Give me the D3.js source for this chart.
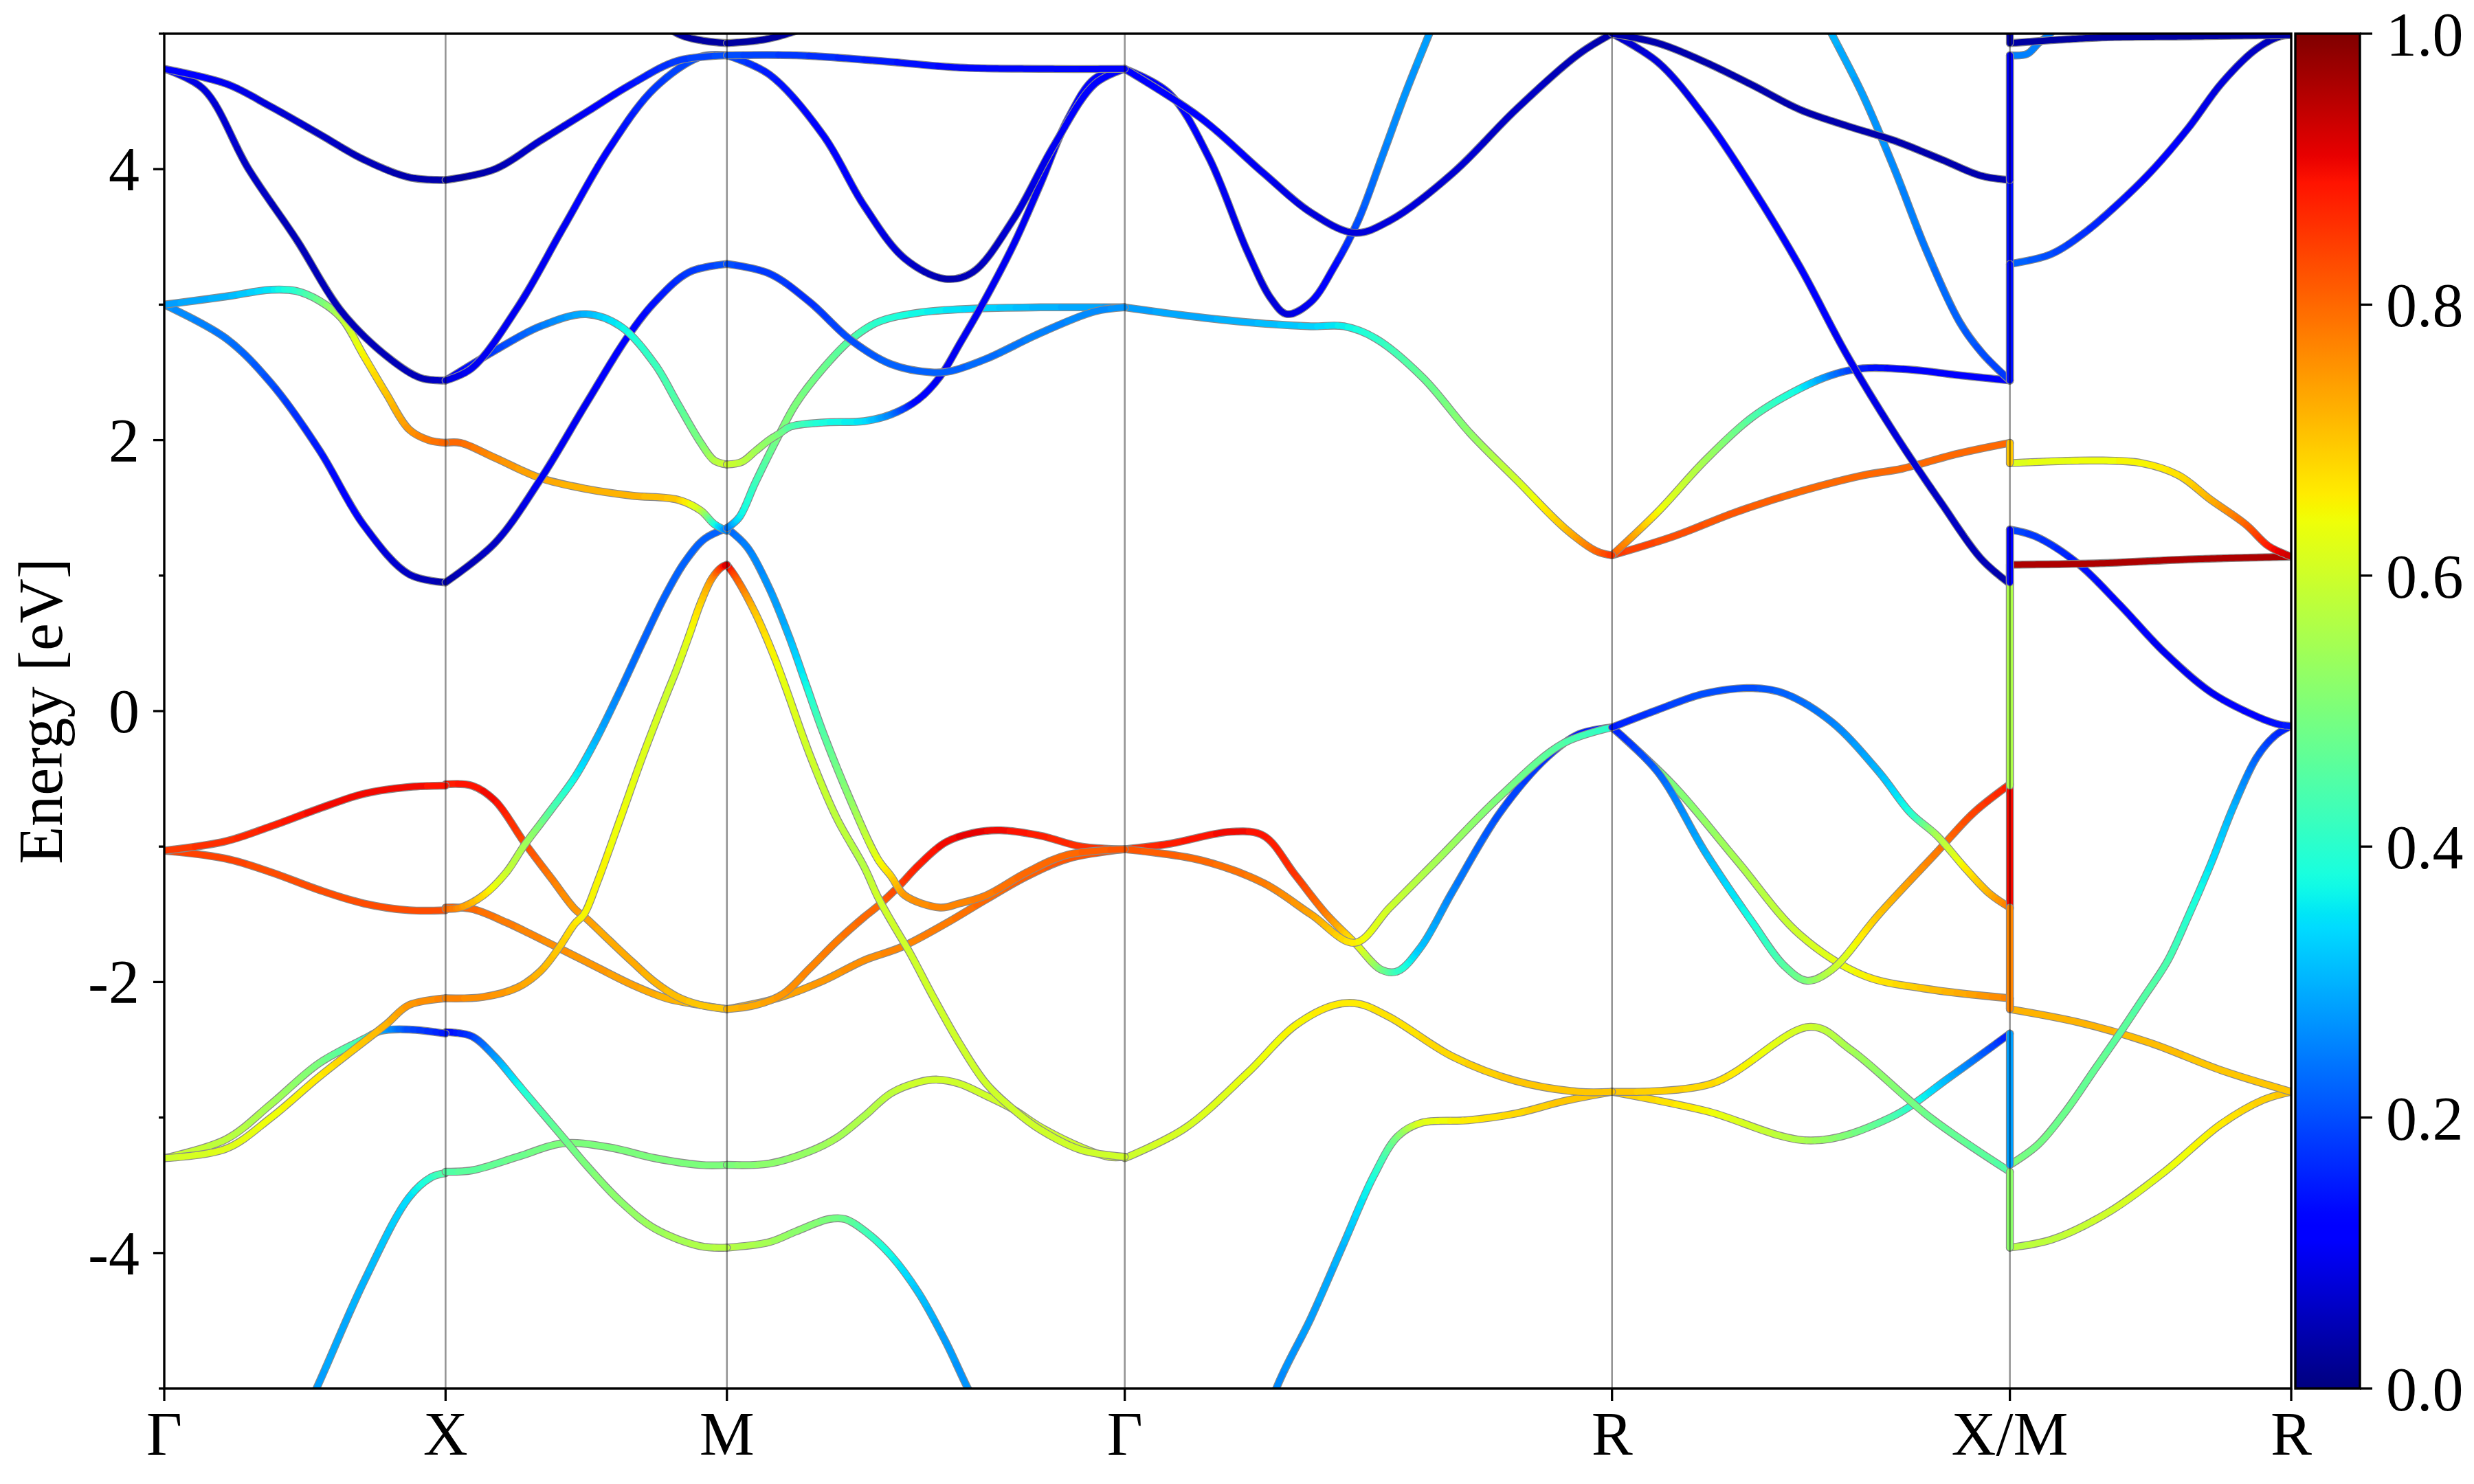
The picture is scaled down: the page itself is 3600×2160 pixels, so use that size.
<!DOCTYPE html>
<html><head><meta charset="utf-8">
<script src="https://cdn.jsdelivr.net/npm/d3@7"></script>
<style>body{margin:0;background:#fff}svg{display:block}</style>
</head><body>
<svg id="chart" width="3600" height="2160"></svg>
<script>
// ---- high-symmetry path ----
const kLabels = ["Γ","X","M","Γ","R","X/M","R"];
const kTicks = [0, 0.5, 1.0, 1.7071, 2.5731, 3.2802, 3.7802];
const energyTicks = [-4,-2,0,2,4];
const energyMinor = [-5,-3,-1,1,3,5];
const cbarTicks = [0,0.2,0.4,0.6,0.8,1.0];

// ---- bands per path segment: [fraction along segment, energy (eV), weight] ----
const bandsGX = [
 [[0,4.74,0.12],[0.22,4.63,0.1],[0.38,4.46,0.08],[0.55,4.26,0.06],[0.71,4.07,0.05],[0.87,3.94,0.04],[1,3.92,0.04]],
 [[0,4.74,0.12],[0.14,4.59,0.08],[0.30,4.0,0.06],[0.47,3.48,0.05],[0.63,2.95,0.05],[0.79,2.62,0.05],[0.91,2.46,0.05],[1,2.44,0.06]],
 [[0,3.0,0.28],[0.22,3.06,0.3],[0.38,3.11,0.35],[0.47,3.1,0.4],[0.55,3.03,0.48],[0.63,2.9,0.57],[0.71,2.62,0.65],[0.79,2.34,0.7],[0.87,2.08,0.75],[0.94,2.0,0.78],[1,1.98,0.8]],
 [[0,3.0,0.27],[0.22,2.75,0.24],[0.38,2.42,0.2],[0.55,1.93,0.15],[0.71,1.37,0.1],[0.87,1.01,0.06],[1,0.95,0.04]],
 [[0,-1.03,0.85],[0.22,-0.96,0.86],[0.38,-0.85,0.88],[0.55,-0.72,0.9],[0.71,-0.61,0.9],[0.87,-0.56,0.9],[1,-0.55,0.89]],
 [[0,-1.03,0.84],[0.22,-1.09,0.84],[0.38,-1.19,0.83],[0.55,-1.32,0.83],[0.71,-1.42,0.83],[0.87,-1.47,0.83],[1,-1.47,0.83]],
 [[0,-3.30,0.6],[0.22,-3.16,0.58],[0.38,-2.9,0.55],[0.55,-2.6,0.5],[0.71,-2.42,0.42],[0.77,-2.36,0.3],[0.87,-2.35,0.2],[1,-2.38,0.15]],
 [[0,-3.30,0.6],[0.22,-3.23,0.62],[0.38,-3.0,0.64],[0.55,-2.7,0.66],[0.71,-2.44,0.7],[0.79,-2.31,0.72],[0.87,-2.17,0.75],[1,-2.12,0.77]],
 [[0.40,-5.6,0.27],[0.53,-5.05,0.28],[0.71,-4.21,0.3],[0.87,-3.59,0.34],[0.95,-3.44,0.4],[1,-3.41,0.45]]
];
const bandsXM = [
 [[0,3.92,0.03],[0.175,4.0,0.04],[0.337,4.21,0.07],[0.5,4.42,0.1],[0.663,4.63,0.14],[0.825,4.80,0.18],[1,4.84,0.2]],
 [[0,2.44,0.08],[0.093,2.53,0.1],[0.256,2.98,0.1],[0.419,3.57,0.1],[0.581,4.15,0.12],[0.744,4.60,0.18],[0.907,4.83,0.2],[1,4.84,0.2]],
 [[0,2.44,0.1],[0.175,2.66,0.18],[0.337,2.84,0.24],[0.5,2.93,0.3],[0.622,2.84,0.36],[0.744,2.56,0.42],[0.825,2.27,0.45],[0.907,1.98,0.5],[0.955,1.85,0.56],[1,1.82,0.6]],
 [[0,0.95,0.04],[0.175,1.24,0.06],[0.337,1.71,0.1],[0.5,2.27,0.1],[0.646,2.76,0.12],[0.744,3.02,0.14],[0.866,3.24,0.18],[1,3.30,0.2]],
 [[0,1.98,0.8],[0.053,1.98,0.8],[0.175,1.87,0.76],[0.337,1.72,0.73],[0.5,1.64,0.72],[0.663,1.59,0.72],[0.825,1.56,0.7],[0.907,1.48,0.6],[0.955,1.38,0.4],[1,1.33,0.25]],
 [[0,-1.46,0.8],[0.053,-1.45,0.76],[0.134,-1.36,0.68],[0.216,-1.19,0.6],[0.28,-0.99,0.55],[0.338,-0.83,0.5],[0.378,-0.72,0.45],[0.459,-0.49,0.37],[0.54,-0.19,0.3],[0.62,0.15,0.25],[0.703,0.52,0.22],[0.78,0.85,0.22],[0.85,1.1,0.22],[0.92,1.27,0.22],[1,1.35,0.22]],
 [[0,-2.12,0.77],[0.134,-2.11,0.76],[0.256,-2.04,0.74],[0.337,-1.92,0.72],[0.402,-1.75,0.7],[0.459,-1.57,0.67],[0.492,-1.50,0.65],[0.54,-1.26,0.65],[0.622,-0.79,0.64],[0.703,-0.32,0.62],[0.785,0.12,0.6],[0.82,0.30,0.6],[0.866,0.56,0.63],[0.907,0.80,0.68],[0.947,0.98,0.75],[0.98,1.06,0.85],[1,1.08,0.93]],
 [[0,-0.54,0.88],[0.093,-0.55,0.89],[0.175,-0.66,0.9],[0.28,-0.97,0.84],[0.378,-1.24,0.78],[0.459,-1.46,0.75],[0.5,-1.53,0.74],[0.581,-1.69,0.73],[0.663,-1.85,0.73],[0.744,-2.0,0.72],[0.825,-2.11,0.71],[0.907,-2.17,0.7],[1,-2.20,0.7]],
 [[0,-1.45,0.82],[0.093,-1.46,0.8],[0.216,-1.56,0.78],[0.297,-1.64,0.77],[0.394,-1.74,0.76],[0.5,-1.85,0.75],[0.663,-2.02,0.74],[0.785,-2.12,0.72],[0.907,-2.17,0.71],[1,-2.20,0.7]],
 [[0,-2.37,0.12],[0.093,-2.40,0.18],[0.175,-2.55,0.27],[0.256,-2.75,0.36],[0.337,-2.95,0.44],[0.419,-3.15,0.48],[0.5,-3.35,0.5],[0.622,-3.62,0.52],[0.744,-3.82,0.54],[0.907,-3.95,0.56],[1,-3.96,0.57]],
 [[0,-3.40,0.45],[0.093,-3.39,0.46],[0.256,-3.29,0.48],[0.419,-3.19,0.5],[0.581,-3.22,0.5],[0.744,-3.30,0.5],[0.907,-3.35,0.5],[1,-3.35,0.5]],
 [[0.7,5.2,0.03],[0.825,5.0,0.03],[0.91,4.95,0.03],[1,4.93,0.03]]
];
const bandsMG = [
 [[0,4.93,0.03],[0.1,4.96,0.03],[0.2,5.05,0.03],[0.3,5.2,0.03]],
 [[0,4.84,0.2],[0.174,4.84,0.18],[0.379,4.80,0.15],[0.584,4.75,0.13],[0.788,4.74,0.13],[1,4.74,0.12]],
 [[0,4.84,0.2],[0.106,4.70,0.15],[0.242,4.25,0.12],[0.345,3.73,0.1],[0.447,3.34,0.07],[0.549,3.19,0.04],[0.618,3.24,0.05],[0.72,3.63,0.07],[0.823,4.18,0.1],[0.925,4.63,0.12],[1,4.74,0.12]],
 [[0,3.30,0.2],[0.106,3.23,0.18],[0.208,3.02,0.17],[0.311,2.74,0.2],[0.413,2.56,0.22],[0.515,2.50,0.22],[0.563,2.51,0.22],[0.652,2.60,0.23],[0.788,2.79,0.25],[0.925,2.95,0.26],[1,2.98,0.27]],
 [[0,1.35,0.22],[0.031,1.43,0.35],[0.072,1.69,0.42],[0.133,2.05,0.5],[0.174,2.27,0.5],[0.242,2.53,0.48],[0.311,2.74,0.45],[0.379,2.87,0.4],[0.481,2.94,0.37],[0.618,2.97,0.34],[0.788,2.98,0.3],[1,2.98,0.28]],
 [[0,1.82,0.6],[0.038,1.84,0.58],[0.072,1.92,0.55],[0.106,2.0,0.52],[0.133,2.05,0.5],[0.16,2.10,0.45],[0.242,2.13,0.38],[0.345,2.14,0.35],[0.413,2.19,0.25],[0.481,2.30,0.12],[0.536,2.47,0.1],[0.587,2.72,0.1],[0.638,2.98,0.1],[0.72,3.44,0.1],[0.788,3.89,0.1],[0.857,4.37,0.11],[0.925,4.67,0.12],[1,4.74,0.12]],
 [[0,1.35,0.22],[0.051,1.21,0.25],[0.106,0.91,0.27],[0.155,0.56,0.3],[0.201,0.18,0.37],[0.242,-0.16,0.45],[0.311,-0.66,0.52],[0.379,-1.09,0.63],[0.413,-1.22,0.68],[0.447,-1.36,0.75],[0.536,-1.45,0.77],[0.584,-1.42,0.77],[0.652,-1.36,0.78],[0.754,-1.19,0.8],[0.857,-1.06,0.8],[1,-1.02,0.82]],
 [[0,1.08,0.93],[0.024,0.98,0.82],[0.072,0.72,0.7],[0.119,0.40,0.65],[0.147,0.18,0.63],[0.208,-0.32,0.6],[0.276,-0.79,0.58],[0.345,-1.15,0.57],[0.379,-1.37,0.6],[0.413,-1.55,0.6],[0.461,-1.79,0.6],[0.515,-2.09,0.6],[0.584,-2.45,0.6],[0.652,-2.75,0.6],[0.72,-2.94,0.6],[0.788,-3.09,0.6],[0.891,-3.24,0.6],[1,-3.29,0.6]],
 [[0,-2.2,0.72],[0.072,-2.17,0.73],[0.14,-2.09,0.75],[0.208,-1.90,0.77],[0.276,-1.70,0.78],[0.345,-1.52,0.8],[0.379,-1.44,0.8],[0.433,-1.29,0.84],[0.481,-1.14,0.88],[0.549,-0.97,0.9],[0.618,-0.90,0.91],[0.686,-0.88,0.9],[0.788,-0.92,0.88],[0.891,-1.0,0.86],[1,-1.02,0.85]],
 [[0,-2.2,0.72],[0.126,-2.12,0.73],[0.242,-1.99,0.75],[0.345,-1.84,0.76],[0.44,-1.74,0.77],[0.549,-1.57,0.78],[0.652,-1.39,0.8],[0.754,-1.22,0.81],[0.857,-1.09,0.82],[1,-1.02,0.83]],
 [[0,-3.35,0.5],[0.106,-3.34,0.52],[0.208,-3.25,0.53],[0.276,-3.15,0.55],[0.345,-2.99,0.56],[0.413,-2.82,0.58],[0.481,-2.74,0.6],[0.529,-2.72,0.6],[0.584,-2.75,0.6],[0.652,-2.84,0.6],[0.72,-2.94,0.6],[0.788,-3.07,0.6],[0.891,-3.22,0.6],[0.96,-3.29,0.6],[1,-3.29,0.6]],
 [[0,-3.96,0.57],[0.106,-3.92,0.55],[0.174,-3.84,0.52],[0.256,-3.75,0.5],[0.297,-3.75,0.48],[0.352,-3.85,0.43],[0.413,-4.02,0.37],[0.481,-4.29,0.32],[0.549,-4.65,0.28],[0.604,-4.99,0.27],[0.65,-5.25,0.27],[0.7,-5.5,0.27]]
];
const bandsGR = [
 [[0,4.74,0.12],[0.091,4.56,0.12],[0.172,4.09,0.1],[0.252,3.39,0.09],[0.301,3.04,0.08],[0.333,2.93,0.08],[0.382,3.02,0.1],[0.43,3.28,0.12],[0.479,3.62,0.2],[0.528,4.09,0.25],[0.576,4.56,0.27],[0.625,5.0,0.28],[0.67,5.4,0.28]],
 [[0,4.74,0.12],[0.155,4.38,0.12],[0.285,3.97,0.1],[0.382,3.68,0.08],[0.472,3.53,0.08],[0.544,3.62,0.08],[0.673,3.97,0.07],[0.803,4.44,0.06],[0.932,4.85,0.05],[1,5.0,0.04]],
 [[0,2.98,0.28],[0.123,2.92,0.29],[0.252,2.87,0.3],[0.382,2.84,0.33],[0.45,2.84,0.36],[0.515,2.75,0.4],[0.612,2.46,0.47],[0.709,2.05,0.52],[0.806,1.70,0.6],[0.903,1.35,0.7],[0.968,1.18,0.8],[1,1.15,0.85]],
 [[0,-1.02,0.85],[0.091,-0.98,0.88],[0.220,-0.89,0.9],[0.285,-0.92,0.89],[0.350,-1.21,0.86],[0.414,-1.50,0.78],[0.472,-1.71,0.66],[0.527,-1.91,0.5],[0.56,-1.92,0.42],[0.608,-1.74,0.32],[0.673,-1.33,0.25],[0.77,-0.75,0.2],[0.867,-0.34,0.17],[0.932,-0.17,0.15],[1,-0.12,0.15]],
 [[0,-1.02,0.82],[0.155,-1.10,0.8],[0.285,-1.27,0.78],[0.382,-1.50,0.74],[0.472,-1.71,0.66],[0.544,-1.45,0.6],[0.641,-1.10,0.55],[0.77,-0.63,0.5],[0.899,-0.24,0.45],[1,-0.12,0.4]],
 [[0,-3.30,0.6],[0.123,-3.08,0.61],[0.252,-2.67,0.63],[0.35,-2.32,0.65],[0.43,-2.17,0.66],[0.479,-2.16,0.66],[0.544,-2.26,0.67],[0.673,-2.55,0.68],[0.803,-2.73,0.7],[0.932,-2.81,0.7],[1,-2.81,0.7]],
 [[0.25,-5.7,0.25],[0.311,-5.0,0.26],[0.382,-4.48,0.28],[0.447,-3.95,0.3],[0.511,-3.43,0.38],[0.56,-3.14,0.5],[0.608,-3.04,0.62],[0.705,-3.02,0.66],[0.803,-2.97,0.68],[0.9,-2.88,0.7],[1,-2.81,0.7]]
];
const bandsRX = [
 [[0,5.0,0.04],[0.115,4.93,0.04],[0.234,4.79,0.04],[0.353,4.62,0.04],[0.472,4.44,0.04],[0.59,4.32,0.04],[0.71,4.21,0.04],[0.829,4.07,0.04],[0.929,3.95,0.04],[1,3.92,0.04]],
 [[0,5.0,0.06],[0.115,4.79,0.08],[0.234,4.38,0.1],[0.353,3.86,0.12],[0.472,3.28,0.12],[0.59,2.63,0.1],[0.71,2.05,0.08],[0.829,1.53,0.06],[0.929,1.12,0.05],[1,0.94,0.04]],
 [[0.5,5.3,0.3],[0.552,5.0,0.3],[0.63,4.55,0.28],[0.71,4.0,0.26],[0.79,3.4,0.24],[0.874,2.87,0.22],[0.931,2.64,0.2],[1,2.44,0.18]],
 [[0,1.15,0.82],[0.115,1.47,0.65],[0.234,1.85,0.55],[0.353,2.17,0.45],[0.472,2.38,0.37],[0.552,2.48,0.25],[0.631,2.53,0.15],[0.75,2.52,0.12],[0.869,2.48,0.12],[1,2.44,0.12]],
 [[0,1.15,0.85],[0.155,1.29,0.83],[0.313,1.47,0.82],[0.472,1.62,0.8],[0.631,1.74,0.8],[0.73,1.79,0.8],[0.869,1.90,0.8],[1,1.98,0.8]],
 [[0,-0.12,0.15],[0.115,0.01,0.18],[0.234,0.13,0.2],[0.353,0.17,0.2],[0.433,0.13,0.22],[0.552,-0.08,0.25],[0.671,-0.45,0.3],[0.75,-0.75,0.38],[0.817,-0.92,0.55],[0.885,-1.15,0.65],[0.95,-1.35,0.72],[1,-1.45,0.78]],
 [[0,-0.12,0.15],[0.115,-0.45,0.22],[0.234,-1.04,0.3],[0.353,-1.56,0.38],[0.433,-1.88,0.45],[0.49,-1.99,0.5],[0.552,-1.91,0.58],[0.671,-1.50,0.7],[0.817,-1.04,0.78],[0.909,-0.75,0.84],[1,-0.54,0.88]],
 [[0,-0.12,0.45],[0.155,-0.55,0.5],[0.313,-1.1,0.55],[0.472,-1.65,0.6],[0.631,-1.95,0.65],[0.79,-2.05,0.7],[1,-2.12,0.77]],
 [[0,-2.81,0.7],[0.234,-2.95,0.65],[0.5,-3.17,0.55],[0.7,-3.0,0.45],[0.85,-2.7,0.3],[1,-2.38,0.15]],
 [[0,-2.81,0.7],[0.25,-2.75,0.68],[0.5,-2.33,0.6],[0.6,-2.5,0.55],[0.8,-3.0,0.48],[1,-3.40,0.45]]
];
const bandsMR = [
 [[0,4.93,0.03],[0.306,4.97,0.03],[0.633,4.98,0.03],[1,4.99,0.03]],
 [[0,4.84,0.25],[0.061,4.85,0.25],[0.102,4.93,0.25],[0.143,5.0,0.25],[0.2,5.15,0.25]],
 [[0,3.30,0.23],[0.143,3.37,0.2],[0.265,3.53,0.17],[0.388,3.75,0.14],[0.51,4.0,0.12],[0.633,4.30,0.1],[0.755,4.64,0.08],[0.878,4.89,0.06],[0.96,4.98,0.05],[1,4.99,0.05]],
 [[0,1.83,0.62],[0.306,1.85,0.64],[0.469,1.83,0.65],[0.6,1.74,0.67],[0.714,1.56,0.72],[0.837,1.38,0.8],[0.918,1.22,0.88],[0.976,1.16,0.92],[1,1.14,0.93]],
 [[0,1.08,0.96],[0.306,1.09,0.96],[0.633,1.12,0.96],[1,1.14,0.96]],
 [[0,1.34,0.2],[0.09,1.29,0.18],[0.241,1.09,0.15],[0.388,0.79,0.12],[0.551,0.43,0.1],[0.714,0.14,0.1],[0.878,-0.04,0.12],[0.959,-0.10,0.14],[1,-0.11,0.15]],
 [[0,-3.35,0.5],[0.1,-3.2,0.49],[0.2,-2.95,0.48],[0.3,-2.65,0.47],[0.4,-2.35,0.46],[0.48,-2.1,0.45],[0.559,-1.85,0.44],[0.633,-1.52,0.4],[0.714,-1.13,0.35],[0.796,-0.70,0.3],[0.878,-0.34,0.22],[0.943,-0.18,0.17],[1,-0.11,0.15]],
 [[0,-2.2,0.72],[0.25,-2.3,0.72],[0.5,-2.45,0.71],[0.75,-2.65,0.7],[1,-2.81,0.7]],
 [[0,-3.96,0.57],[0.15,-3.9,0.58],[0.35,-3.7,0.6],[0.55,-3.4,0.63],[0.75,-3.05,0.66],[0.9,-2.87,0.69],[1,-2.81,0.7]]
];
// vertical jumps at X/M: [energy at X, energy at M, weight]
const jumpsXM = [
 [5.3,4.93,0.03],[3.92,4.84,0.1],[2.44,4.84,0.14],[2.44,3.30,0.14],[1.98,1.83,0.7],
 [0.95,1.34,0.12],[-0.55,1.34,0.56],[-1.46,1.08,0.9],[-1.45,-2.2,0.77],[-2.12,-2.2,0.72],
 [-2.38,-3.35,0.28],[-3.40,-3.96,0.52]
];
const segmentBands = [bandsGX, bandsXM, bandsMG, bandsGR, bandsRX, bandsMR];

// ---- jet colormap ----
function pw(pts, v){ for(let i=0;i<pts.length-1;i++){ if(v<=pts[i+1][0]){ const a=pts[i],b=pts[i+1]; return a[1]+(b[1]-a[1])*(v-a[0])/(b[0]-a[0]); } } return pts[pts.length-1][1]; }
function jet(v){ v=Math.max(0,Math.min(1,v));
 const r=pw([[0,0],[0.35,0],[0.66,1],[0.89,1],[1,0.5]],v);
 const g=pw([[0,0],[0.125,0],[0.375,1],[0.64,1],[0.91,0],[1,0]],v);
 const b=pw([[0,0.5],[0.11,1],[0.34,1],[0.65,0],[1,0]],v);
 return d3.rgb(r*255,g*255,b*255).formatHex(); }

// ---- layout ----
const plot={l:239,r:3334,t:49,b:2021};
const cbar={l:3340,r:3434};
const FONT="'Liberation Serif','Times New Roman',serif";
const svg=d3.select('#chart');
const x=d3.scaleLinear().domain([0,kTicks[kTicks.length-1]]).range([plot.l,plot.r]);
const y=d3.scaleLinear().domain([-5,5]).range([plot.b,plot.t]);
const defs=svg.append('defs');
defs.append('clipPath').attr('id','clip').append('rect').attr('x',plot.l).attr('y',plot.t).attr('width',plot.r-plot.l).attr('height',plot.b-plot.t);
const gB=svg.append('g').attr('clip-path','url(#clip)');

function wAt(pts,px){ if(px<=pts[0][0]) return pts[0][2];
 for(let i=0;i<pts.length-1;i++){ if(px<=pts[i+1][0]){ const a=pts[i],b=pts[i+1]; const f=(b[0]===a[0])?0:(px-a[0])/(b[0]-a[0]); return a[2]+(b[2]-a[2])*f; } }
 return pts[pts.length-1][2]; }

function drawBand(g,pts){
 const dStr=d3.line().x(d=>d[0]).y(d=>d[1]).curve(d3.curveCatmullRom.alpha(0.5))(pts);
 const bg=g.append('g');
 bg.append('path').attr('d',dStr).attr('fill','none').attr('stroke','#8a8a8a').attr('stroke-width',11.5).attr('stroke-linecap','round');
 const tmp=bg.append('path').attr('d',dStr).attr('fill','none');
 const node=tmp.node(); const L=node.getTotalLength();
 const n=Math.max(2,Math.ceil(L/3)); const s=[];
 for(let i=0;i<=n;i++){ const p=node.getPointAtLength(L*i/n); s.push([p.x,p.y]); }
 tmp.remove();
 const flush=(run,q)=>{ bg.append('path').attr('d',d3.line()(run)).attr('fill','none').attr('stroke',jet(q)).attr('stroke-width',9).attr('stroke-linecap','round').attr('stroke-linejoin','round'); };
 let run=[s[0]],cur=null;
 for(let i=1;i<s.length;i++){ const q=Math.round(wAt(pts,(s[i-1][0]+s[i][0])/2)*100)/100;
  if(cur===null) cur=q;
  if(q!==cur){ flush(run,cur); run=[s[i-1]]; cur=q; }
  run.push(s[i]); }
 flush(run,cur);
}

const all=[];
segmentBands.forEach((bands,si)=>{ const k0=kTicks[si],k1=kTicks[si+1];
 bands.forEach(b=>{ const pts=b.map(([t,E,w])=>[x(k0+t*(k1-k0)),y(E),w]); all.push({pts,m:d3.mean(b,d=>d[1])}); }); });
all.sort((a,b)=>a.m-b.m).forEach(b=>drawBand(gB,b.pts));

// jumps at X/M
const xj=x(kTicks[5]);
jumpsXM.slice().sort((a,b)=>a[0]-b[0]).forEach(([e1,e2,w])=>{
 gB.append('line').attr('x1',xj).attr('x2',xj).attr('y1',y(e1)).attr('y2',y(e2)).attr('stroke','#8a8a8a').attr('stroke-width',11.5).attr('stroke-linecap','round');
 gB.append('line').attr('x1',xj).attr('x2',xj).attr('y1',y(e1)).attr('y2',y(e2)).attr('stroke',jet(w)).attr('stroke-width',9).attr('stroke-linecap','round');
});

// high-symmetry vertical lines
kTicks.slice(1,-1).forEach(k=>{ svg.append('line').attr('x1',x(k)).attr('x2',x(k)).attr('y1',plot.t).attr('y2',plot.b).attr('stroke','#000').attr('stroke-opacity',0.42).attr('stroke-width',2.6); });

// frame
svg.append('rect').attr('x',plot.l).attr('y',plot.t).attr('width',plot.r-plot.l).attr('height',plot.b-plot.t).attr('fill','none').attr('stroke','#000').attr('stroke-width',3.4);

// y ticks
energyTicks.forEach(e=>{ svg.append('line').attr('x1',plot.l-16).attr('x2',plot.l).attr('y1',y(e)).attr('y2',y(e)).attr('stroke','#000').attr('stroke-width',3.3);
 svg.append('text').attr('x',plot.l-36).attr('y',y(e)+31).attr('text-anchor','end').attr('font-family',FONT).attr('font-size',90).text(String(e)); });
energyMinor.forEach(e=>{ svg.append('line').attr('x1',plot.l-8).attr('x2',plot.l).attr('y1',y(e)).attr('y2',y(e)).attr('stroke','#000').attr('stroke-width',3.3); });
// x ticks
kTicks.forEach((k,i)=>{ svg.append('line').attr('x1',x(k)).attr('x2',x(k)).attr('y1',plot.b).attr('y2',plot.b+18).attr('stroke','#000').attr('stroke-width',3.3);
 svg.append('text').attr('x',x(k)).attr('y',2118).attr('text-anchor','middle').attr('font-family',FONT).attr('font-size',90).text(kLabels[i]); });
// y label
svg.append('text').attr('transform',`translate(90,${(plot.t+plot.b)/2}) rotate(-90)`).attr('text-anchor','middle').attr('font-family',FONT).attr('font-size',90).text('Energy [eV]');

// colorbar
const grad=defs.append('linearGradient').attr('id','jetg').attr('x1',0).attr('y1',1).attr('x2',0).attr('y2',0);
d3.range(0,101).forEach(i=>grad.append('stop').attr('offset',i+'%').attr('stop-color',jet(i/100)));
const cy=d3.scaleLinear().domain([0,1]).range([plot.b,plot.t]);
svg.append('rect').attr('x',cbar.l).attr('y',plot.t).attr('width',cbar.r-cbar.l).attr('height',plot.b-plot.t).attr('fill','url(#jetg)').attr('stroke','#000').attr('stroke-width',3.4);
cbarTicks.forEach(v=>{ svg.append('line').attr('x1',cbar.r).attr('x2',cbar.r+18).attr('y1',cy(v)).attr('y2',cy(v)).attr('stroke','#000').attr('stroke-width',3.3);
 svg.append('text').attr('x',cbar.r+38).attr('y',cy(v)+32).attr('font-family',FONT).attr('font-size',90).text(v.toFixed(1)); });
</script>
</body></html>
